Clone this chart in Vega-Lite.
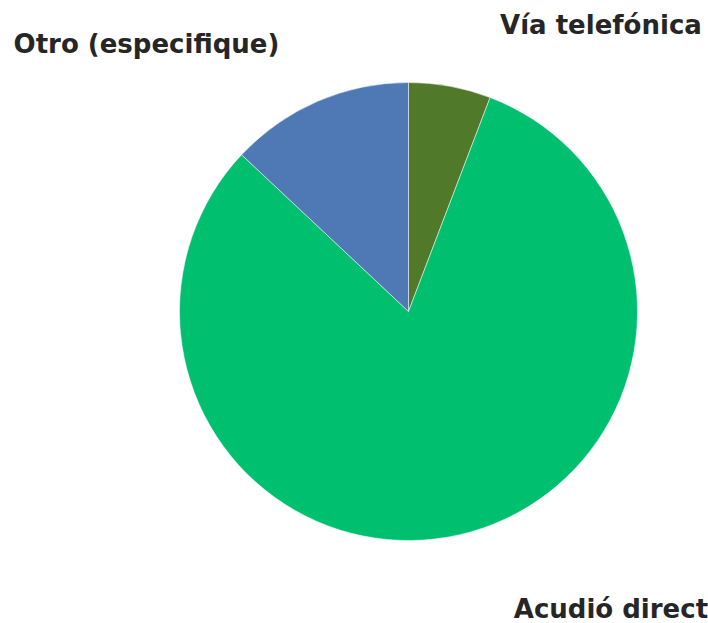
{
  "$schema": "https://vega.github.io/schema/vega-lite/v6.json",
  "width": 599,
  "height": 623,
  "autosize": {"type": "none"},
  "padding": {"left": 109, "right": 0, "top": 0, "bottom": 0},
  "background": "#ffffff",
  "config": {"view": {"stroke": null}},
  "data": {
    "values": [
      {"categoria": "Vía telefónica", "valor": 5.8, "orden": 1},
      {"categoria": "Acudió directamente", "valor": 81.2, "orden": 2},
      {"categoria": "Otro (especifique)", "valor": 13.0, "orden": 3}
    ]
  },
  "encoding": {
    "theta": {"field": "valor", "type": "quantitative", "stack": true},
    "order": {"field": "orden", "type": "quantitative", "sort": "ascending"}
  },
  "layer": [
    {
      "mark": {"type": "arc", "outerRadius": 229, "stroke": "#ffffff", "strokeWidth": 0.5},
      "encoding": {
        "color": {
          "field": "categoria",
          "type": "nominal",
          "scale": {
            "domain": ["Vía telefónica", "Acudió directamente", "Otro (especifique)"],
            "range": ["#507a2a", "#00bf6f", "#4e79b5"]
          },
          "legend": null
        }
      }
    },
    {
      "mark": {"type": "text", "radius": 290, "align": "left", "baseline": "middle", "dx": 39, "dy": 0, "font": "DejaVu Sans", "fontWeight": "bold", "fontSize": 26, "color": "#262626"},
      "encoding": {
        "text": {"condition": {"test": "datum.categoria === 'Vía telefónica'", "field": "categoria"}, "value": ""}
      }
    },
    {
      "mark": {"type": "text", "radius": 290, "align": "right", "baseline": "middle", "dx": -14, "dy": 0, "font": "DejaVu Sans", "fontWeight": "bold", "fontSize": 26, "color": "#262626"},
      "encoding": {
        "text": {"condition": {"test": "datum.categoria === 'Otro (especifique)'", "field": "categoria"}, "value": ""}
      }
    },
    {
      "mark": {"type": "text", "radius": 300, "align": "left", "baseline": "middle", "dx": 38, "dy": 6, "font": "DejaVu Sans", "fontWeight": "bold", "fontSize": 26, "color": "#262626"},
      "encoding": {
        "text": {"condition": {"test": "datum.categoria === 'Acudió directamente'", "field": "categoria"}, "value": ""}
      }
    }
  ]
}
